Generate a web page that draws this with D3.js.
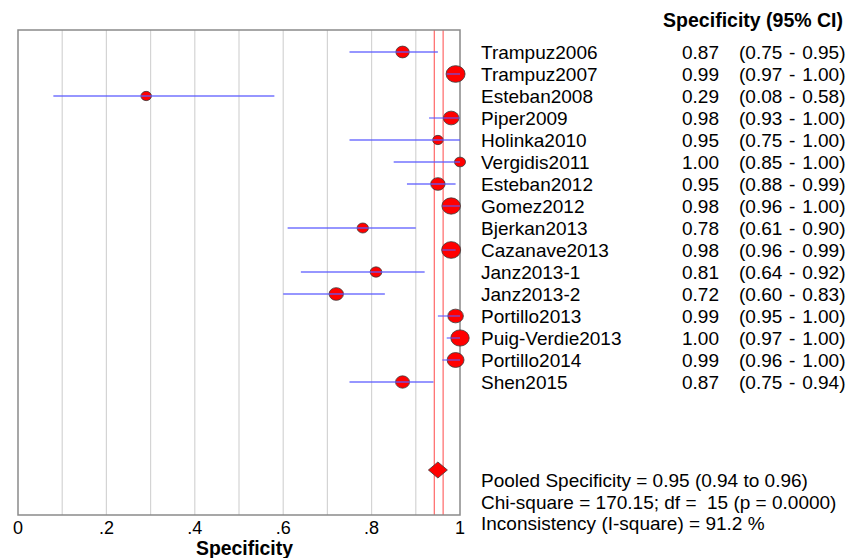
<!DOCTYPE html>
<html>
<head>
<meta charset="utf-8">
<script src="https://cdn.jsdelivr.net/npm/d3@7"></script>
<style>
  body { margin: 0; background: #fff; }
  text { font-family: "Liberation Sans", Arial, sans-serif; fill: #000; }
</style>
</head>
<body>
<script>
var studies = ["Trampuz2006", "Trampuz2007", "Esteban2008", "Piper2009", "Holinka2010",
  "Vergidis2011", "Esteban2012", "Gomez2012", "Bjerkan2013", "Cazanave2013",
  "Janz2013-1", "Janz2013-2", "Portillo2013", "Puig-Verdie2013", "Portillo2014", "Shen2015"];
var spec = [0.87, 0.99, 0.29, 0.98, 0.95, 1.00, 0.95, 0.98, 0.78, 0.98, 0.81, 0.72, 0.99, 1.00, 0.99, 0.87];
var lower = [0.75, 0.97, 0.08, 0.93, 0.75, 0.85, 0.88, 0.96, 0.61, 0.96, 0.64, 0.60, 0.95, 0.97, 0.96, 0.75];
var upper = [0.95, 1.00, 0.58, 1.00, 1.00, 1.00, 0.99, 1.00, 0.90, 0.99, 0.92, 0.83, 1.00, 1.00, 1.00, 0.94];
// relative study weights (%)
var weight = [5.0, 10.1, 3.1, 6.8, 3.1, 3.4, 5.8, 9.6, 3.6, 10.1, 3.8, 5.8, 6.8, 9.5, 8.0, 5.5];
var pooled = { est: 0.95, lo: 0.94, hi: 0.96 };
var xTicks = [0, 0.2, 0.4, 0.6, 0.8, 1];
var xTickLabels = ["0", ".2", ".4", ".6", ".8", "1"];
var gridVals = [0.1, 0.2, 0.3, 0.4, 0.5, 0.6, 0.7, 0.8, 0.9];
var summary = ["Pooled Specificity = 0.95 (0.94 to 0.96)",
  "Chi-square = 170.15; df =  15 (p = 0.0000)",
  "Inconsistency (I-square) = 91.2 %"];

var w = 861, h = 558;
var plot = { left: 18, right: 460, top: 30, bottom: 515 };

var svg = d3.select("body").append("svg")
  .attr("width", w)
  .attr("height", h);

var xScale = d3.scaleLinear().domain([0, 1]).range([plot.left, plot.right]);
var yScale = d3.scaleLinear().domain([0, 15]).range([52, 382]);
var rScale = d3.scaleSqrt().domain([0, d3.max(weight)]).range([0, 9.5]);

// grid
svg.selectAll("line.grid")
  .data(gridVals)
  .enter()
  .append("line")
  .attr("class", "grid")
  .attr("x1", function (d) { return xScale(d); })
  .attr("x2", function (d) { return xScale(d); })
  .attr("y1", plot.top)
  .attr("y2", plot.bottom)
  .attr("stroke", "#d4d4d4")
  .attr("stroke-width", 1.2);

// pooled CI lines
svg.selectAll("line.pool")
  .data([pooled.lo, pooled.hi])
  .enter()
  .append("line")
  .attr("class", "pool")
  .attr("x1", function (d) { return xScale(d) + 0.8; })
  .attr("x2", function (d) { return xScale(d) + 0.8; })
  .attr("y1", plot.top)
  .attr("y2", plot.bottom)
  .attr("stroke", "#ff5a5a")
  .attr("stroke-width", 1.1);

// frame
svg.append("rect")
  .attr("x", plot.left)
  .attr("y", plot.top)
  .attr("width", plot.right - plot.left)
  .attr("height", plot.bottom - plot.top)
  .attr("fill", "none")
  .attr("stroke", "#8a8a8a")
  .attr("stroke-width", 1.5);

var rows = studies.map(function (s, i) {
  return { name: s, est: spec[i], lo: lower[i], hi: upper[i], w: weight[i], i: i };
});

// markers
svg.selectAll("ellipse.study")
  .data(rows)
  .enter()
  .append("ellipse")
  .attr("class", "study")
  .attr("cx", function (d) { return xScale(d.est); })
  .attr("cy", function (d) { return yScale(d.i); })
  .attr("rx", function (d) { return rScale(d.w); })
  .attr("ry", function (d) { return rScale(d.w) * 0.88; })
  .attr("fill", "#ff0000")
  .attr("stroke", "#3a3a3a")
  .attr("stroke-width", 0.8);

// CI lines on top of markers
svg.selectAll("line.ci")
  .data(rows)
  .enter()
  .append("line")
  .attr("class", "ci")
  .attr("x1", function (d) { return xScale(d.lo); })
  .attr("x2", function (d) { return xScale(d.hi); })
  .attr("y1", function (d) { return yScale(d.i); })
  .attr("y2", function (d) { return yScale(d.i); })
  .attr("stroke", "#5a5aff")
  .attr("stroke-opacity", 0.85)
  .attr("stroke-width", 1.3);

// pooled diamond
var dy = yScale(19);
var dx = xScale(pooled.est);
svg.append("path")
  .attr("d", "M" + (dx - 9.5) + "," + dy + "L" + dx + "," + (dy - 8) + "L" + (dx + 9.5) + "," + dy + "L" + dx + "," + (dy + 8) + "Z")
  .attr("fill", "#ff0000")
  .attr("stroke", "#3a3a3a")
  .attr("stroke-width", 0.8);

// x axis labels
svg.selectAll("text.tick")
  .data(xTicks)
  .enter()
  .append("text")
  .attr("class", "tick")
  .attr("x", function (d) { return xScale(d); })
  .attr("y", 534)
  .attr("text-anchor", "middle")
  .style("font-size", "18px")
  .text(function (d, i) { return xTickLabels[i]; });

svg.append("text")
  .attr("x", 244.5)
  .attr("y", 555)
  .attr("text-anchor", "middle")
  .style("font-size", "19.4px")
  .style("font-weight", "bold")
  .text("Specificity");

// right-hand table
svg.append("text")
  .attr("x", 843)
  .attr("y", 27)
  .attr("text-anchor", "end")
  .style("font-size", "19.5px")
  .style("font-weight", "bold")
  .text("Specificity (95% CI)");

var tbl = svg.append("g").style("font-size", "19px");
tbl.selectAll("text.name")
  .data(rows)
  .enter()
  .append("text")
  .attr("class", "name")
  .attr("x", 481)
  .attr("y", function (d) { return yScale(d.i) + 6.5; })
  .text(function (d) { return d.name; });

tbl.selectAll("text.val")
  .data(rows)
  .enter()
  .append("text")
  .attr("class", "val")
  .attr("x", 719)
  .attr("y", function (d) { return yScale(d.i) + 6.5; })
  .attr("text-anchor", "end")
  .text(function (d) { return d.est.toFixed(2); });

tbl.selectAll("text.ci")
  .data(rows)
  .enter()
  .append("text")
  .attr("class", "ci")
  .attr("x", 739)
  .attr("y", function (d) { return yScale(d.i) + 6.5; })
  .style("word-spacing", "1.5px")
  .text(function (d) { return "(" + d.lo.toFixed(2) + " - " + d.hi.toFixed(2) + ")"; });

svg.selectAll("text.summary")
  .data(summary)
  .enter()
  .append("text")
  .attr("class", "summary")
  .attr("x", 481)
  .attr("y", function (d, i) { return 487 + i * 21.5; })
  .style("font-size", "19px")
  .style("white-space", "pre")
  .attr("xml:space", "preserve")
  .text(function (d) { return d; });
</script>
</body>
</html>
